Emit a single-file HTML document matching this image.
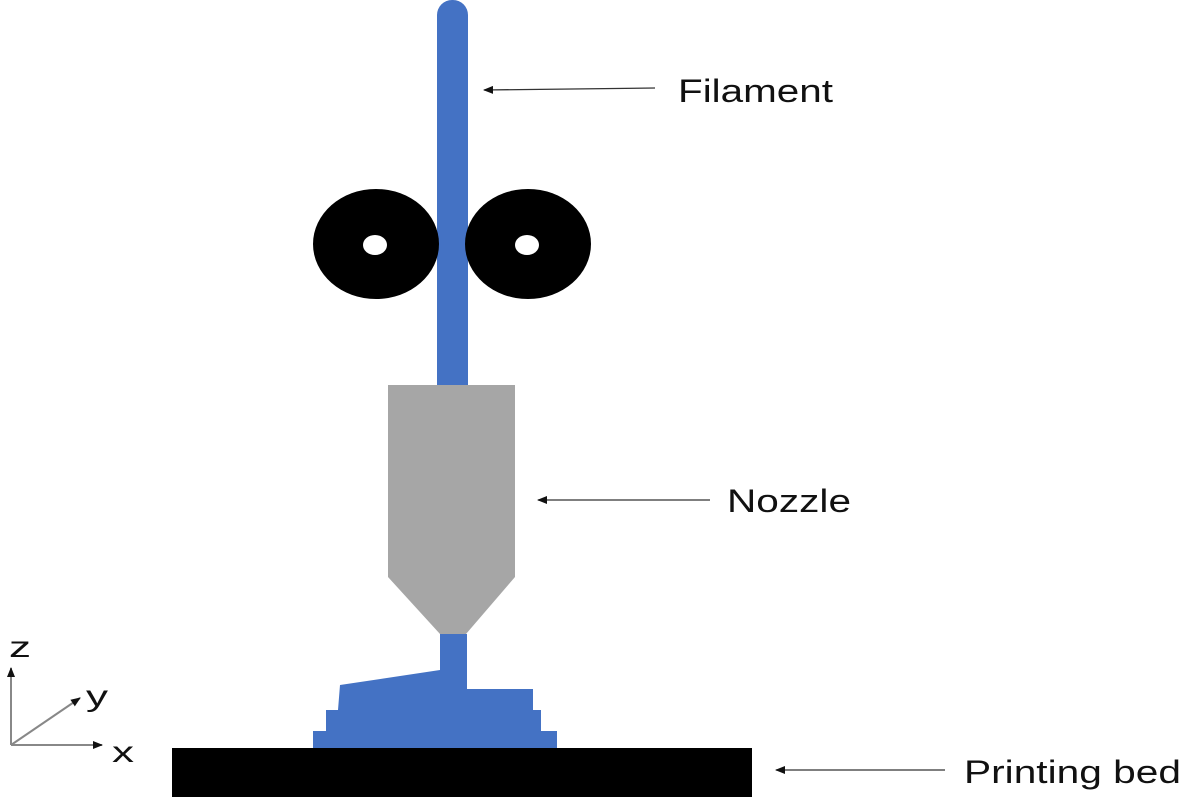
<!DOCTYPE html>
<html><head><style>body{margin:0;background:#fff}svg{display:block}text{font-family:"Liberation Sans",sans-serif;fill:#111}</style></head>
<body>
<svg width="1181" height="800" viewBox="0 0 1181 800">
<defs><marker id="a" markerWidth="10" markerHeight="8" refX="9" refY="4" orient="auto" markerUnits="userSpaceOnUse"><path d="M0,0L10,4L0,8z" fill="#111"/></marker></defs>
<rect x="437" y="0" width="31" height="390" rx="15" fill="#4472c4"/>
<rect x="437" y="15" width="31" height="375" fill="#4472c4"/>
<ellipse cx="376" cy="244" rx="63" ry="55" fill="#000"/>
<ellipse cx="528" cy="244" rx="63" ry="55" fill="#000"/>
<ellipse cx="375" cy="245" rx="12" ry="10" fill="#fff"/>
<ellipse cx="527" cy="245" rx="12" ry="10" fill="#fff"/>
<polygon points="388,385 515,385 515,577 466,634 440,634 388,577" fill="#a6a6a6"/>
<polygon points="440,634 467,634 467,689 533,689 533,710 541,710 541,731 557,731 557,748 313,748 313,731 326,731 326,710 338,710 340,685 440,670" fill="#4472c4"/>
<rect x="172" y="748" width="580" height="49" fill="#000"/>
<g stroke="#333" stroke-width="1.3" fill="none" marker-end="url(#a)">
<path d="M655,88 L484,90"/>
<path d="M710,500 L538,500"/>
<path d="M945,770 L776,770"/>
<path d="M11,745 L11,668" stroke="#888" stroke-width="2"/>
<path d="M11,745 L102,745" stroke="#888" stroke-width="2"/>
<path d="M11,745 L80,698" stroke="#888" stroke-width="2"/>
</g>
<text x="678" y="102" font-size="32" textLength="155" lengthAdjust="spacingAndGlyphs">Filament</text>
<text x="727" y="512" font-size="32" textLength="124" lengthAdjust="spacingAndGlyphs">Nozzle</text>
<text x="964" y="783" font-size="32" textLength="217" lengthAdjust="spacingAndGlyphs">Printing bed</text>
<text x="9" y="657" font-size="30" textLength="22" lengthAdjust="spacingAndGlyphs">z</text>
<text x="86" y="706" font-size="30" textLength="22" lengthAdjust="spacingAndGlyphs">y</text>
<text x="112" y="762" font-size="30" textLength="22" lengthAdjust="spacingAndGlyphs">x</text>
</svg>
</body></html>
